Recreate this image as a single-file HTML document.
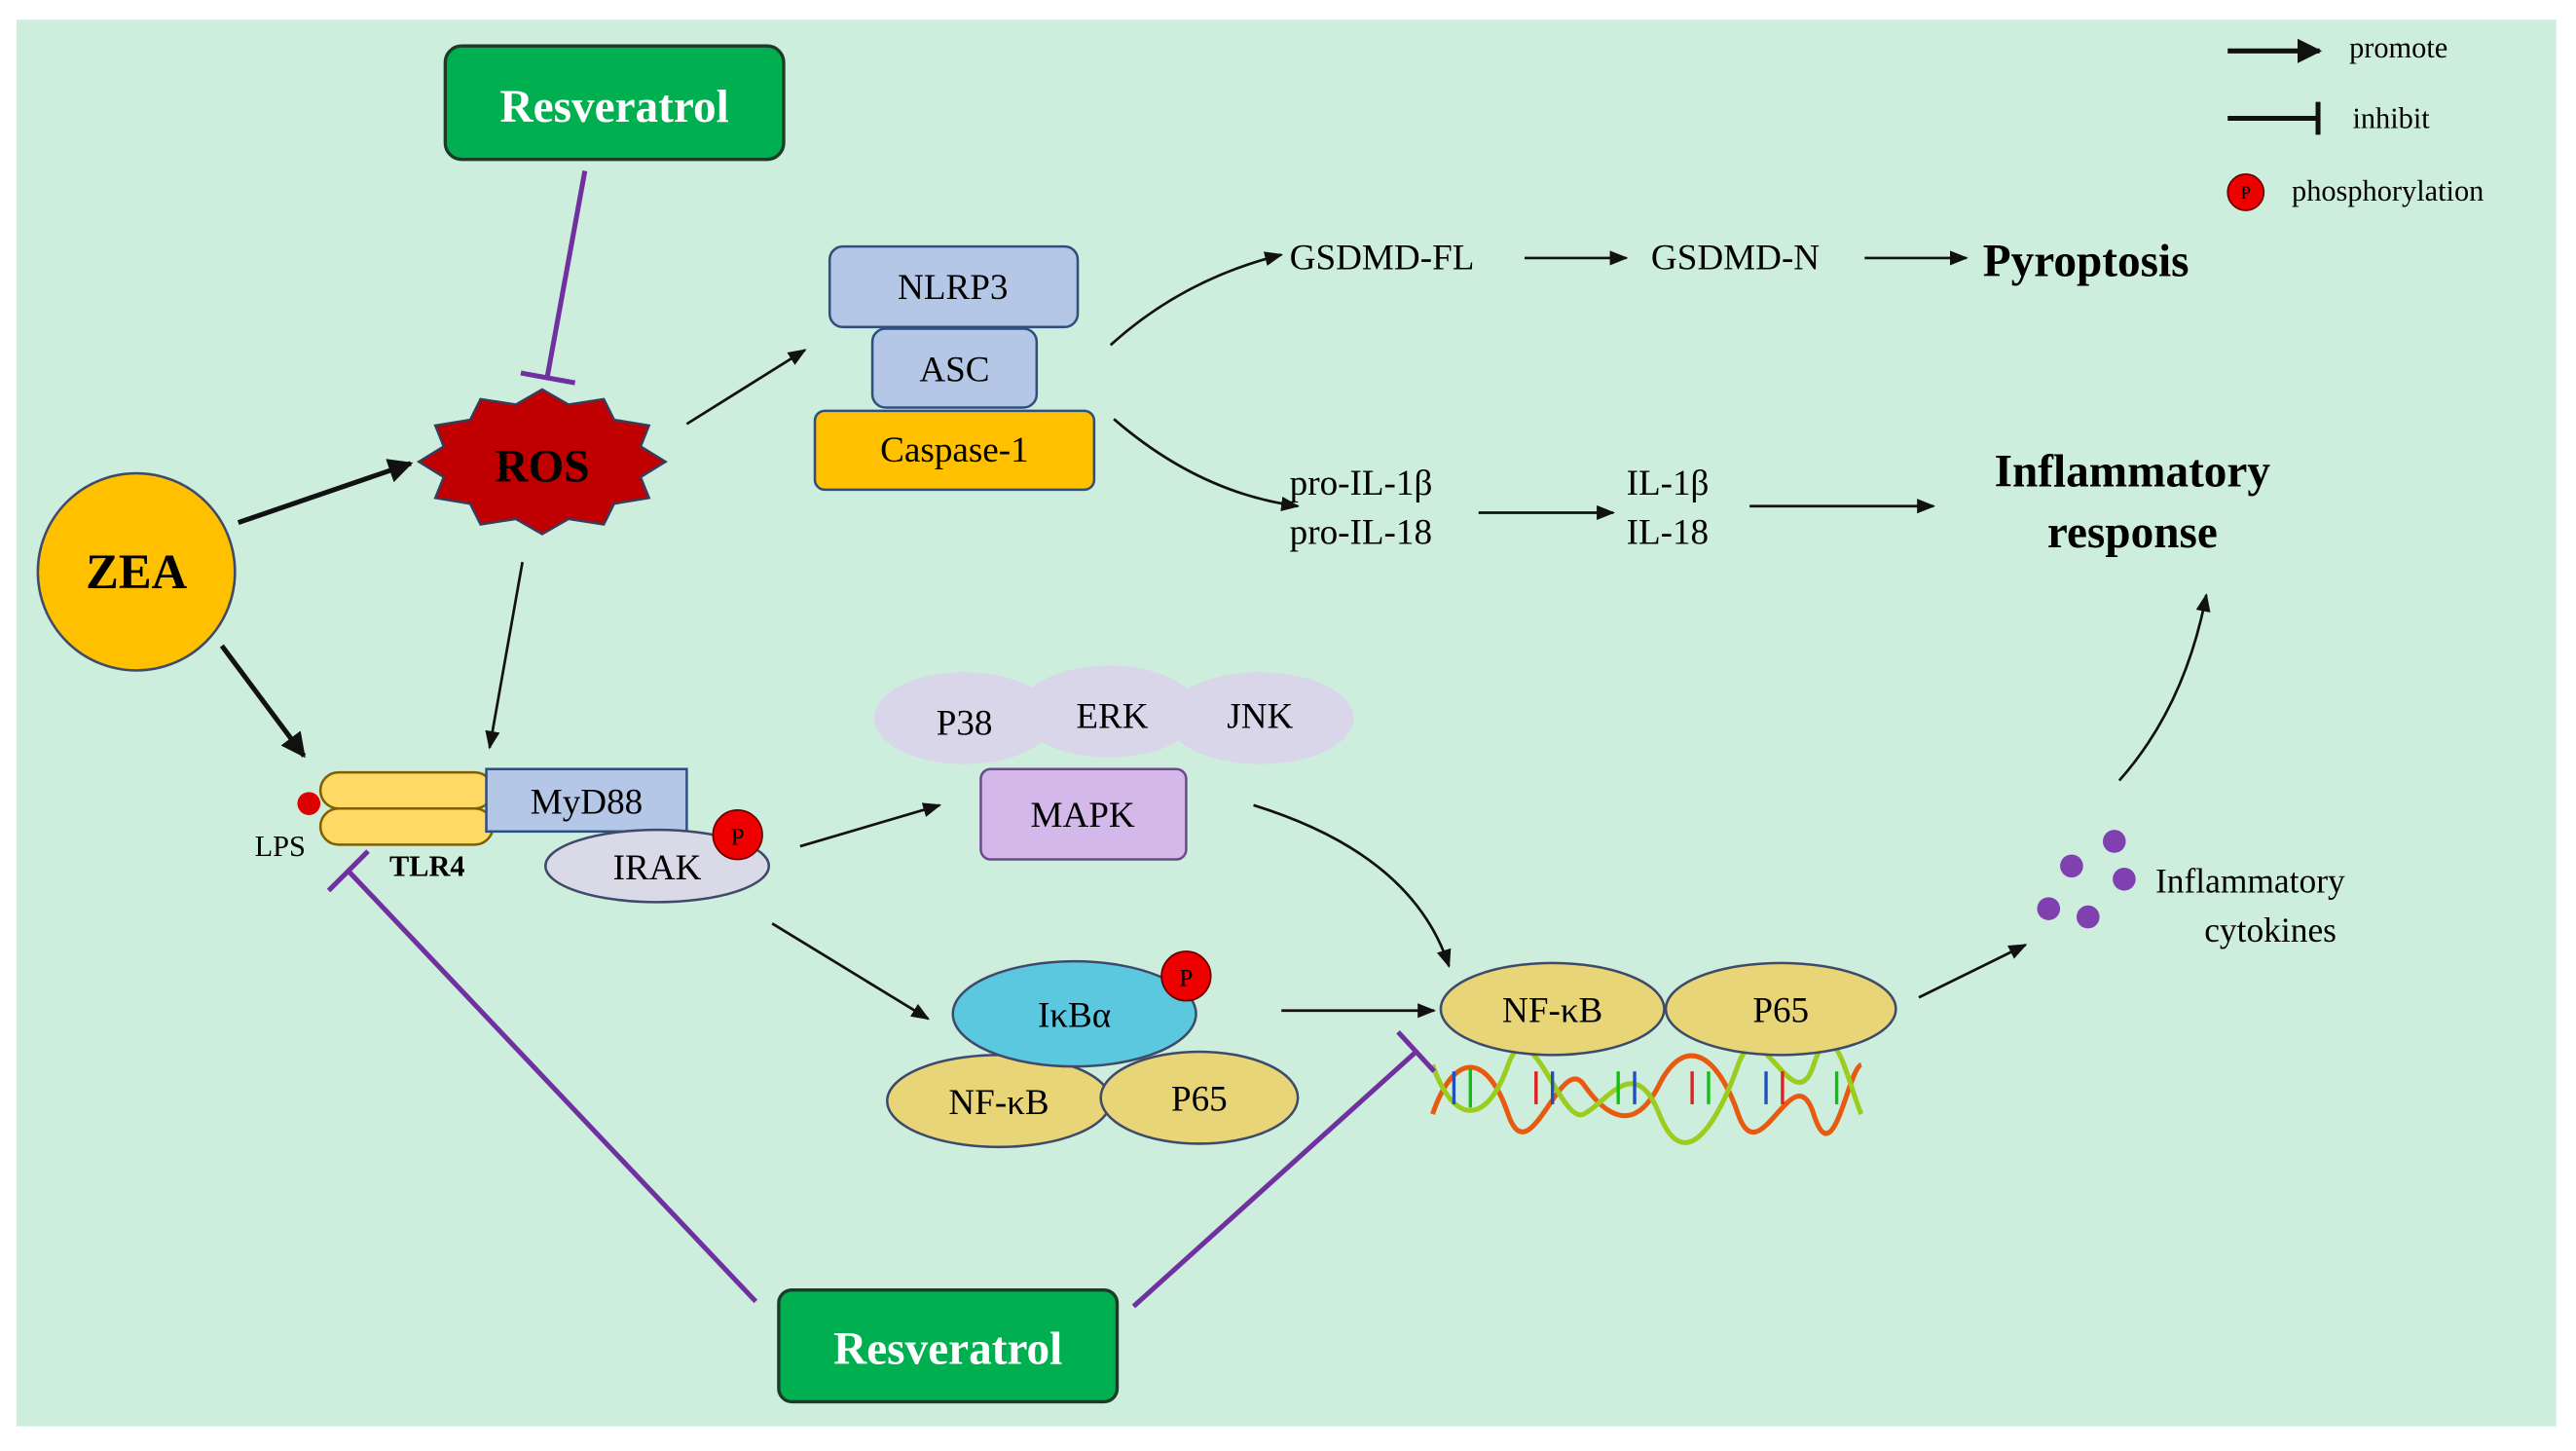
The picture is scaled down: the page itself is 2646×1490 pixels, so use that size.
<!DOCTYPE html>
<html><head><meta charset="utf-8"><style>
html,body{margin:0;padding:0;background:#fff;}
svg{display:block;font-family:"Liberation Serif",serif;}
text{font-family:"Liberation Serif",serif;}
</style></head><body>
<svg width="2646" height="1490" viewBox="0 0 1568 883" xmlns="http://www.w3.org/2000/svg" font-family="Liberation Serif, serif">
<defs>
<marker id="a" viewBox="0 0 10 10" refX="9" refY="5" markerWidth="5" markerHeight="5" orient="auto"><path d="M0,0 L10,5 L0,10 z" fill="#111"/></marker>
<marker id="a2" viewBox="0 0 10 10" refX="9" refY="5" markerWidth="7" markerHeight="7" orient="auto"><path d="M0,1 L10,5 L0,9 z" fill="#111"/></marker>
</defs>
<rect x="0" y="0" width="1568" height="883" fill="#fff"/>
<rect x="10" y="12" width="1546" height="856" fill="#cdeedd"/>

<!-- legend -->
<line x1="1356" y1="31" x2="1412" y2="31" stroke="#111" stroke-width="3" marker-end="url(#a)"/>
<text x="1430" y="35" font-size="18">promote</text>
<line x1="1356" y1="72" x2="1411" y2="72" stroke="#111" stroke-width="3"/>
<line x1="1411" y1="62" x2="1411" y2="82" stroke="#111" stroke-width="3"/>
<text x="1432" y="78" font-size="18">inhibit</text>
<circle cx="1367" cy="117" r="11" fill="#e00" stroke="#600" stroke-width="1"/>
<text x="1367" y="121" font-size="11" text-anchor="middle" fill="#000">P</text>
<text x="1395" y="122" font-size="18">phosphorylation</text>

<!-- Resveratrol top -->
<rect x="271" y="28" width="206" height="69" rx="10" fill="#00b050" stroke="#1e3b28" stroke-width="2"/>
<text x="374" y="74" font-size="28" font-weight="bold" fill="#fff" text-anchor="middle">Resveratrol</text>
<line x1="356" y1="104" x2="333" y2="230" stroke="#7030a0" stroke-width="3"/>
<line x1="317" y1="227" x2="350" y2="233" stroke="#7030a0" stroke-width="3"/>

<!-- ROS -->
<polygon points="405,281 389.9,290.3 395,303 373.8,306.5 367.5,319.1 346,315.8 330,325 314,315.8 292.5,319.1 286.2,306.5 265,303 270.1,290.3 255,281 270.1,271.7 265,259 286.2,255.5 292.5,242.9 314,246.2 330,237 346,246.2 367.5,242.9 373.8,255.5 395,259 389.9,271.7" fill="#c00000" stroke="#3a3a5a" stroke-width="1.5"/>
<text x="330" y="293" font-size="28" font-weight="bold" text-anchor="middle">ROS</text>

<!-- ZEA -->
<ellipse cx="83" cy="348" rx="60" ry="60" fill="#ffc000" stroke="#3f4a6a" stroke-width="1.5"/>
<text x="83" y="358" font-size="30" font-weight="bold" text-anchor="middle">ZEA</text>

<line x1="145" y1="318" x2="250" y2="282" stroke="#111" stroke-width="3" marker-end="url(#a)"/>
<line x1="135" y1="393" x2="185" y2="460" stroke="#111" stroke-width="3" marker-end="url(#a)"/>
<line x1="318" y1="342" x2="298" y2="455" stroke="#111" stroke-width="1.6" marker-end="url(#a2)"/>
<line x1="418" y1="258" x2="490" y2="213" stroke="#111" stroke-width="1.6" marker-end="url(#a2)"/>

<!-- inflammasome -->
<rect x="505" y="150" width="151" height="49" rx="8" fill="#b4c7e7" stroke="#2f4f7f" stroke-width="1.5"/>
<text x="580" y="182" font-size="22" text-anchor="middle">NLRP3</text>
<rect x="531" y="200" width="100" height="48" rx="8" fill="#b4c7e7" stroke="#2f4f7f" stroke-width="1.5"/>
<text x="581" y="232" font-size="22" text-anchor="middle">ASC</text>
<rect x="496" y="250" width="170" height="48" rx="6" fill="#ffc000" stroke="#2f4f7f" stroke-width="1.5"/>
<text x="581" y="281" font-size="22" text-anchor="middle">Caspase-1</text>

<path d="M676,210 Q720,170 780,155" fill="none" stroke="#111" stroke-width="1.6" marker-end="url(#a2)"/>
<path d="M678,255 Q730,300 790,308" fill="none" stroke="#111" stroke-width="1.6" marker-end="url(#a2)"/>

<text x="785" y="164" font-size="22">GSDMD-FL</text>
<line x1="928" y1="157" x2="990" y2="157" stroke="#111" stroke-width="1.6" marker-end="url(#a2)"/>
<text x="1005" y="164" font-size="22">GSDMD-N</text>
<line x1="1135" y1="157" x2="1197" y2="157" stroke="#111" stroke-width="1.6" marker-end="url(#a2)"/>
<text x="1207" y="168" font-size="28" font-weight="bold">Pyroptosis</text>

<text x="785" y="301" font-size="22">pro-IL-1β</text>
<text x="785" y="331" font-size="22">pro-IL-18</text>
<line x1="900" y1="312" x2="982" y2="312" stroke="#111" stroke-width="1.6" marker-end="url(#a2)"/>
<text x="990" y="301" font-size="22">IL-1β</text>
<text x="990" y="331" font-size="22">IL-18</text>
<line x1="1065" y1="308" x2="1177" y2="308" stroke="#111" stroke-width="1.6" marker-end="url(#a2)"/>
<text x="1298" y="296" font-size="28" font-weight="bold" text-anchor="middle">Inflammatory</text>
<text x="1298" y="333" font-size="28" font-weight="bold" text-anchor="middle">response</text>

<!-- MAPK -->
<ellipse cx="587" cy="437" rx="55" ry="28" fill="#d9d6ea"/>
<ellipse cx="675" cy="433" rx="55" ry="28" fill="#d9d6ea"/>
<ellipse cx="767" cy="437" rx="57" ry="28" fill="#d9d6ea"/>
<text x="587" y="447" font-size="22" text-anchor="middle">P38</text>
<text x="677" y="443" font-size="22" text-anchor="middle">ERK</text>
<text x="767" y="443" font-size="22" text-anchor="middle">JNK</text>
<rect x="597" y="468" width="125" height="55" rx="6" fill="#d5b8ea" stroke="#6d4a8a" stroke-width="1.5"/>
<text x="659" y="503" font-size="22" text-anchor="middle">MAPK</text>

<!-- TLR4 -->
<rect x="195" y="470" width="105" height="22" rx="11" fill="#ffd966" stroke="#7f6000" stroke-width="1.5"/>
<rect x="195" y="492" width="105" height="22" rx="11" fill="#ffd966" stroke="#7f6000" stroke-width="1.5"/>
<rect x="296" y="468" width="122" height="38" fill="#b4c7e7" stroke="#2f4f7f" stroke-width="1.5"/>
<text x="357" y="495" font-size="22" text-anchor="middle">MyD88</text>
<ellipse cx="400" cy="527" rx="68" ry="22" fill="#d9d9e8" stroke="#3f4a6a" stroke-width="1.5"/>
<text x="400" y="535" font-size="22" text-anchor="middle">IRAK</text>
<circle cx="449" cy="508" r="15" fill="#e00" stroke="#600"/>
<text x="449" y="514" font-size="15" text-anchor="middle">P</text>
<circle cx="188" cy="489" r="7" fill="#d00"/>
<text x="155" y="521" font-size="18">LPS</text>
<text x="237" y="533" font-size="18" font-weight="bold">TLR4</text>

<line x1="487" y1="515" x2="572" y2="490" stroke="#111" stroke-width="1.6" marker-end="url(#a2)"/>
<line x1="470" y1="562" x2="565" y2="620" stroke="#111" stroke-width="1.6" marker-end="url(#a2)"/>
<path d="M763,490 Q860,520 882,588" fill="none" stroke="#111" stroke-width="1.6" marker-end="url(#a2)"/>

<!-- IkBa complex -->
<ellipse cx="608" cy="670" rx="68" ry="28" fill="#e8d577" stroke="#3f4a6a" stroke-width="1.5"/>
<ellipse cx="730" cy="668" rx="60" ry="28" fill="#e8d577" stroke="#3f4a6a" stroke-width="1.5"/>
<ellipse cx="654" cy="617" rx="74" ry="32" fill="#5bc8e0" stroke="#3f4a6a" stroke-width="1.5"/>
<text x="654" y="625" font-size="22" text-anchor="middle">IκBα</text>
<text x="608" y="678" font-size="22" text-anchor="middle">NF-κB</text>
<text x="730" y="676" font-size="22" text-anchor="middle">P65</text>
<circle cx="722" cy="594" r="15" fill="#e00" stroke="#600"/>
<text x="722" y="600" font-size="15" text-anchor="middle">P</text>

<line x1="780" y1="615" x2="873" y2="615" stroke="#111" stroke-width="1.6" marker-end="url(#a2)"/>

<!-- DNA -->
<g fill="none" stroke-width="3">
<path d="M872,678 C885,640 905,640 918,678 S950,640 964,660 S995,690 1010,660 S1045,640 1058,678 S1092,640 1104,678 S1125,650 1133,648" stroke="#e85a10"/>
<path d="M872,648 C885,685 905,685 918,648 S950,685 964,678 S995,640 1010,678 S1045,685 1058,648 S1092,685 1104,648 S1125,660 1133,678" stroke="#9ccc20"/>
</g>
<g stroke-width="2">
<line x1="885" y1="652" x2="885" y2="672" stroke="#2050c0"/><line x1="895" y1="650" x2="895" y2="674" stroke="#10c010"/>
<line x1="935" y1="652" x2="935" y2="672" stroke="#e02020"/><line x1="945" y1="652" x2="945" y2="672" stroke="#2050c0"/>
<line x1="985" y1="652" x2="985" y2="672" stroke="#10c010"/><line x1="995" y1="652" x2="995" y2="672" stroke="#2050c0"/>
<line x1="1030" y1="652" x2="1030" y2="672" stroke="#e02020"/><line x1="1040" y1="652" x2="1040" y2="672" stroke="#10c010"/>
<line x1="1075" y1="652" x2="1075" y2="672" stroke="#2050c0"/><line x1="1085" y1="652" x2="1085" y2="672" stroke="#e02020"/>
<line x1="1118" y1="652" x2="1118" y2="672" stroke="#10c010"/>
</g>

<ellipse cx="945" cy="614" rx="68" ry="28" fill="#e8d577" stroke="#3f4a6a" stroke-width="1.5"/>
<ellipse cx="1084" cy="614" rx="70" ry="28" fill="#e8d577" stroke="#3f4a6a" stroke-width="1.5"/>
<text x="945" y="622" font-size="22" text-anchor="middle">NF-κB</text>
<text x="1084" y="622" font-size="22" text-anchor="middle">P65</text>

<line x1="1168" y1="607" x2="1233" y2="575" stroke="#111" stroke-width="1.6" marker-end="url(#a2)"/>
<g fill="#8040b0">
<circle cx="1287" cy="512" r="7"/><circle cx="1293" cy="535" r="7"/><circle cx="1261" cy="527" r="7"/><circle cx="1247" cy="553" r="7"/><circle cx="1271" cy="558" r="7"/>
</g>
<text x="1312" y="543" font-size="21">Inflammatory</text>
<text x="1382" y="573" font-size="21" text-anchor="middle">cytokines</text>
<path d="M1290,475 Q1330,430 1343,362" fill="none" stroke="#111" stroke-width="1.6" marker-end="url(#a2)"/>

<!-- Resveratrol bottom -->
<line x1="460" y1="792" x2="212" y2="530" stroke="#7030a0" stroke-width="3"/>
<line x1="200" y1="542" x2="224" y2="518" stroke="#7030a0" stroke-width="3"/>
<line x1="690" y1="795" x2="862" y2="640" stroke="#7030a0" stroke-width="3"/>
<line x1="851" y1="628" x2="873" y2="652" stroke="#7030a0" stroke-width="3"/>
<rect x="474" y="785" width="206" height="68" rx="8" fill="#00b050" stroke="#1e3b28" stroke-width="2"/>
<text x="577" y="830" font-size="28" font-weight="bold" fill="#fff" text-anchor="middle">Resveratrol</text>
</svg>
</body></html>
